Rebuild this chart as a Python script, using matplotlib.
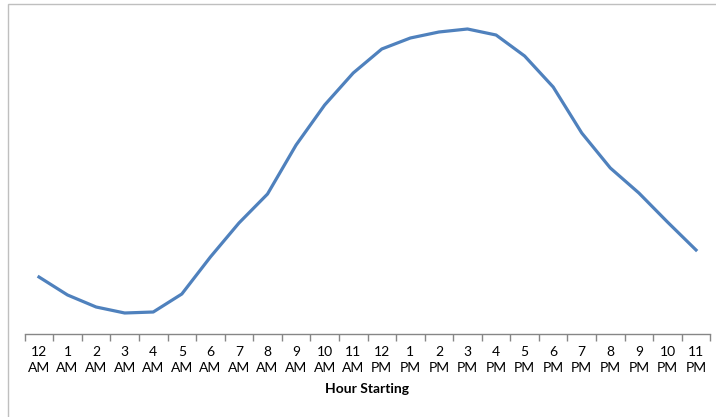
import matplotlib.pyplot as plt
from matplotlib.patches import Rectangle

hours = ['12', '1', '2', '3', '4', '5', '6', '7', '8', '9', '10', '11',
         '12', '1', '2', '3', '4', '5', '6', '7', '8', '9', '10', '11']
periods = ['AM'] * 12 + ['PM'] * 12
load = [57, 39, 27, 21, 22, 40, 77, 111, 140, 189, 229, 261,
        285, 296, 302, 305, 299, 278, 247, 201, 166, 141, 112, 84]

W, H = 716, 417
fig = plt.figure(figsize=(W / 100, H / 100), dpi=100)

# chart area border (cut off at right and bottom)
fig.add_artist(Rectangle((8 / W, -0.1), 1.2, 1.1 - 4.5 / H, transform=fig.transFigure,
                         fill=False, edgecolor='#BFBFBF', linewidth=1.0))

left, right, bottom, top = 24.7, 710.3, 334, 14
ax = fig.add_axes([left / W, 1 - bottom / H, (right - left) / W, (bottom - top) / H])

x = list(range(len(load)))
ax.plot(x, load, color='#4F81BD', linewidth=2.3, solid_joinstyle='round')

ax.set_xlim(-0.5, 23.5)
ax.set_ylim(0, 320)

for side in ['top', 'right', 'left']:
    ax.spines[side].set_visible(False)
ax.spines['bottom'].set_color('#868686')
ax.spines['bottom'].set_linewidth(1.0)

ax.set_yticks([])
ax.set_xticks([i - 0.5 for i in range(len(load) + 1)])
ax.set_xticklabels([])
ax.tick_params(axis='x', direction='out', length=5, width=1.0, color='#868686')
ax.set_xticks(x, minor=True)
ax.set_xticklabels([h + '\n' + p for h, p in zip(hours, periods)], minor=True,
                   fontfamily='Lato', fontsize=10, linespacing=1.3)
ax.tick_params(axis='x', which='minor', length=0, pad=9)

ax.set_xlabel('Hour Starting', fontfamily='Lato', fontsize=10, fontweight='bold')
ax.xaxis.set_label_coords(0.5, -(383 - bottom) / (bottom - top), transform=ax.transAxes)

fig.savefig('out.png', dpi=100)
